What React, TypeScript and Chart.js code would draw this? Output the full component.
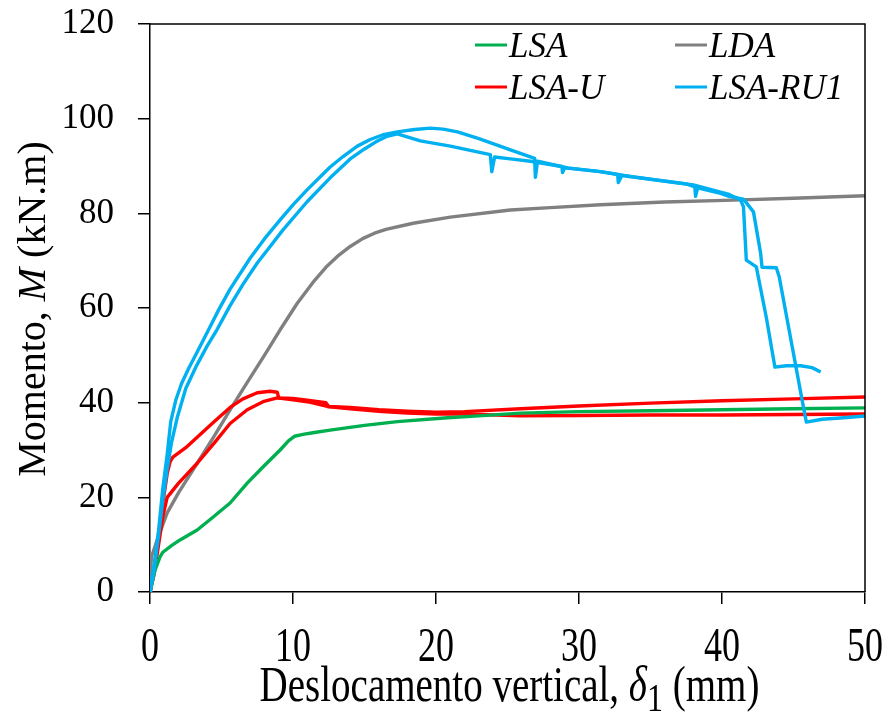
import React, { useEffect, useRef } from "react";
import { Chart, registerables } from "chart.js";

Chart.register(...registerables);

const xTickValues = [0, 10, 20, 30, 40, 50];
const xTickLabels = ["0", "10", "20", "30", "40", "50"];
const yTickValues = [0, 20, 40, 60, 80, 100, 120];
const yTickLabels = ["0", "20", "40", "60", "80", "100", "120"];

const legendLabels = ["LSA", "LDA", "LSA-U", "LSA-RU1"];
const seriesColors = ["#00B050", "#808080", "#FF0000", "#00B0F0"];

const xTitleMain = "Deslocamento vertical, ";
const xTitleSymbol = "δ";
const xTitleSub = "1";
const xTitleUnit = " (mm)";
const yTitleMain = "Momento, ";
const yTitleSymbol = "M";
const yTitleUnit = " (kN.m)";

// LSA
const lsaX = [0, 0.35, 0.7, 0.9, 1.5, 2.1, 3.3, 4.4, 5.6, 6.8, 7.9, 9.1, 9.7, 10.1, 10.7, 11.5, 12.6, 15.0, 17.3, 20.8, 23.0, 25.9, 30.0, 35.0, 40.0, 45.0, 50.0];
const lsaY = [0, 4.6, 7.4, 8.4, 9.8, 11.0, 13.1, 15.8, 18.8, 23.0, 26.4, 30.0, 32.0, 32.9, 33.3, 33.7, 34.2, 35.2, 36.0, 36.8, 37.2, 37.8, 38.1, 38.3, 38.5, 38.7, 38.9];

// LDA
const ldaX = [0, 0.05, 0.1, 0.5, 1.2, 2.0, 3.3, 4.5, 5.6, 6.8, 8.0, 9.1, 10.3, 11.5, 12.3, 13.1, 14.0, 14.9, 15.7, 16.5, 18.4, 21.0, 25.2, 28.0, 31.5, 36.0, 40.8, 45.0, 50.0];
const ldaY = [0, 5.0, 7.4, 11.0, 16.7, 21.0, 27.2, 33.0, 38.5, 44.3, 50.0, 55.4, 61.0, 65.8, 68.6, 70.9, 73.0, 74.7, 75.8, 76.6, 77.9, 79.2, 80.7, 81.2, 81.8, 82.4, 82.8, 83.2, 83.7];

// LSA-U (two traces)
const lsaUAX = [0, 0.3, 0.6, 0.9, 1.2, 1.4, 1.6, 2.5, 3.3, 4.5, 5.6, 6.5, 7.5, 8.4, 8.9, 9.0, 10.0, 11.0, 12.3, 12.5, 14.0, 16.0, 18.0, 20.0, 22.0, 25.9, 30.0, 35.0, 40.0, 45.0, 50.0];
const lsaUAY = [0, 5.0, 12.0, 18.8, 25.0, 27.5, 28.5, 30.5, 32.7, 36.0, 39.0, 40.8, 42.1, 42.4, 42.2, 41.0, 40.9, 40.5, 40.0, 39.2, 39.0, 38.5, 38.2, 38.0, 38.1, 38.7, 39.3, 39.9, 40.4, 40.8, 41.2];
const lsaUBX = [0, 0.3, 0.6, 0.9, 1.2, 2.0, 3.3, 4.5, 5.6, 6.8, 7.9, 8.9, 10.0, 11.0, 12.4, 14.0, 16.0, 18.0, 20.0, 22.0, 25.9, 30.0, 35.0, 40.0, 45.0, 50.0];
const lsaUBY = [0, 4.0, 10.0, 16.0, 20.0, 23.0, 27.2, 31.5, 35.6, 38.5, 40.2, 41.0, 40.6, 40.2, 39.2, 38.7, 38.2, 37.8, 37.6, 37.6, 37.2, 37.3, 37.4, 37.4, 37.5, 37.6];

// LSA-RU1 (two traces)
const ru1AX = [0, 0.3, 0.6, 0.9, 1.2, 1.45, 1.8, 2.2, 2.7, 3.3, 4.06, 4.8, 5.6, 7.0, 8.0, 9.1, 10.0, 11.0, 12.6, 13.5, 14.5, 15.4, 16.3, 17.3, 18.5, 19.6, 20.5, 21.5, 23.0, 25.2, 26.9, 26.95, 27.1, 29.2, 31.5, 33.8, 36.0, 38.0, 39.9, 40.5, 41.3, 41.5, 41.7, 42.4, 43.1, 43.7, 44.5, 45.5, 46.3, 46.9];
const ru1AY = [0, 6.0, 13.0, 22.0, 29.0, 36.0, 40.5, 44.0, 47.2, 50.7, 55.2, 59.6, 64.0, 70.5, 74.6, 78.6, 81.8, 85.0, 89.8, 92.0, 94.2, 95.6, 96.6, 97.2, 97.7, 98.0, 97.8, 97.2, 95.8, 93.4, 91.6, 87.6, 91.0, 89.6, 88.8, 87.7, 86.8, 86.0, 84.5, 84.0, 82.8, 81.4, 70.1, 68.7, 58.0, 47.5, 47.8, 47.8, 47.4, 46.5];
const ru1BX = [0, 0.3, 0.6, 0.9, 1.2, 1.5, 1.9, 2.5, 3.2, 4.0, 4.7, 5.6, 6.5, 7.5, 8.4, 9.3, 11.0, 12.6, 14.0, 15.0, 15.8, 16.5, 17.3, 18.9, 21.0, 23.8, 23.9, 24.1, 25.2, 26.6, 28.8, 28.85, 29.0, 31.5, 32.7, 32.75, 33.0, 35.0, 37.5, 38.1, 38.15, 38.3, 39.9, 40.5, 41.5, 42.2, 42.7, 42.8, 43.8, 44.0, 45.6, 45.9, 47.0, 48.5, 50.0];
const ru1BY = [0, 5.0, 12.0, 19.5, 26.0, 31.5, 36.8, 43.0, 47.5, 52.0, 55.5, 60.5, 65.0, 69.5, 73.0, 76.5, 82.5, 87.5, 91.5, 93.6, 95.1, 96.2, 96.8, 95.3, 94.2, 92.4, 88.8, 91.9, 91.5, 91.0, 89.9, 88.6, 89.6, 88.8, 88.2, 86.5, 88.0, 87.2, 86.2, 85.6, 83.6, 85.4, 84.2, 83.6, 83.0, 80.3, 71.6, 68.6, 68.5, 66.6, 40.6, 35.9, 36.5, 36.8, 37.2];

const FONT = '"Liberation Serif", "Times New Roman", serif';

function pts(xs: number[], ys: number[]) {
  return xs.map((x, i) => ({ x, y: ys[i] }));
}

const customDraw = {
  id: "customDraw",
  afterDraw(chart: any) {
    const { ctx, chartArea: a, scales } = chart;
    ctx.save();
    // box top & right
    ctx.strokeStyle = "#000";
    ctx.lineWidth = 1.5;
    ctx.beginPath();
    ctx.moveTo(a.left, a.top);
    ctx.lineTo(a.right, a.top);
    ctx.lineTo(a.right, a.bottom);
    ctx.stroke();

    ctx.fillStyle = "#000";
    // x tick labels (vertically stretched like the reference)
    ctx.textAlign = "center";
    ctx.textBaseline = "alphabetic";
    xTickValues.forEach((v, i) => {
      const px = scales.x.getPixelForValue(v);
      ctx.save();
      ctx.translate(px, 661);
      ctx.scale(1, 1.35);
      ctx.font = `36px ${FONT}`;
      ctx.fillText(xTickLabels[i], 0, 0);
      ctx.restore();
    });

    // x title
    {
      const runs = [
        { t: xTitleMain, f: `39px ${FONT}`, dy: 0 },
        { t: xTitleSymbol, f: `italic 39px ${FONT}`, dy: 0 },
        { t: xTitleSub, f: `32px ${FONT}`, dy: 8 },
        { t: xTitleUnit, f: `39px ${FONT}`, dy: 0 },
      ];
      ctx.save();
      ctx.translate((a.left + a.right) / 2 + 2, 701);
      ctx.scale(1, 1.28);
      ctx.textAlign = "left";
      let total = 0;
      runs.forEach((r) => {
        ctx.font = r.f;
        total += ctx.measureText(r.t).width;
      });
      let cx = -total / 2;
      runs.forEach((r) => {
        ctx.font = r.f;
        ctx.fillText(r.t, cx, r.dy);
        cx += ctx.measureText(r.t).width;
      });
      ctx.restore();
    }

    // y title
    {
      const runs = [
        { t: yTitleMain, f: `40px ${FONT}` },
        { t: yTitleSymbol, f: `italic 40px ${FONT}` },
        { t: yTitleUnit, f: `40px ${FONT}` },
      ];
      ctx.save();
      ctx.translate(45, (a.top + a.bottom) / 2 + 1);
      ctx.rotate(-Math.PI / 2);
      ctx.textAlign = "left";
      let total = 0;
      runs.forEach((r) => {
        ctx.font = r.f;
        total += ctx.measureText(r.t).width;
      });
      let cx = -total / 2;
      runs.forEach((r) => {
        ctx.font = r.f;
        ctx.fillText(r.t, cx, 0);
        cx += ctx.measureText(r.t).width;
      });
      ctx.restore();
    }

    // legend (2 x 2)
    const colX = [475, 675];
    const rowY = [45, 87];
    ctx.font = `italic 35px ${FONT}`;
    ctx.textAlign = "left";
    ctx.textBaseline = "alphabetic";
    legendLabels.forEach((lab, i) => {
      const x = colX[i % 2];
      const y = rowY[Math.floor(i / 2)];
      ctx.strokeStyle = seriesColors[i];
      ctx.lineWidth = 3;
      ctx.beginPath();
      ctx.moveTo(x, y);
      ctx.lineTo(x + 32, y);
      ctx.stroke();
      ctx.fillStyle = "#000";
      ctx.fillText(lab, x + 34, y + 12);
    });
    ctx.restore();
  },
};

export default function App() {
  const ref = useRef<HTMLCanvasElement | null>(null);
  useEffect(() => {
    if (!ref.current) return;
    const line = (data: any, color: string, order: number) => ({
      data,
      borderColor: color,
      backgroundColor: color,
      borderWidth: 3.4,
      borderJoinStyle: "round",
      showLine: true,
      pointRadius: 0,
      tension: 0,
      order,
    });
    const chart = new Chart(ref.current, {
      type: "scatter",
      data: {
        datasets: [
          { label: legendLabels[3], ...line(pts(ru1AX, ru1AY), seriesColors[3], 0) },
          { label: legendLabels[3] + " b", ...line(pts(ru1BX, ru1BY), seriesColors[3], 0) },
          { label: legendLabels[0], ...line(pts(lsaX, lsaY), seriesColors[0], 1) },
          { label: legendLabels[2], ...line(pts(lsaUAX, lsaUAY), seriesColors[2], 2) },
          { label: legendLabels[2] + " b", ...line(pts(lsaUBX, lsaUBY), seriesColors[2], 2) },
          { label: legendLabels[1], ...line(pts(ldaX, ldaY), seriesColors[1], 3) },
        ],
      },
      options: {
        responsive: false,
        animation: false,
        devicePixelRatio: 1,
        layout: { padding: { top: 24, right: 25, left: 0, bottom: 0 } },
        plugins: { legend: { display: false }, tooltip: { enabled: false } },
        scales: {
          x: {
            type: "linear",
            min: 0,
            max: 50,
            ticks: { stepSize: 10, display: false },
            grid: { drawOnChartArea: false, drawTicks: true, tickLength: 12, color: "#000", lineWidth: 1.5 },
            border: { display: true, color: "#000", width: 1.5 },
            afterFit: (s: any) => {
              s.height = 121;
              s.paddingLeft = 0;
              s.paddingRight = 0;
            },
          },
          y: {
            type: "linear",
            min: 0,
            max: 120,
            ticks: {
              stepSize: 20,
              padding: 24,
              color: "#000",
              font: { family: FONT, size: 35 },
              callback: (v: any) => {
                const i = yTickValues.indexOf(Number(v));
                return i >= 0 ? yTickLabels[i] : "";
              },
            },
            grid: { drawOnChartArea: false, drawTicks: true, tickLength: 12, color: "#000", lineWidth: 1.5 },
            border: { display: true, color: "#000", width: 1.5 },
            afterFit: (s: any) => {
              s.width = 150;
              s.paddingTop = 0;
              s.paddingBottom = 0;
            },
          },
        },
      },
      plugins: [customDraw],
    });
    return () => chart.destroy();
  }, []);
  return (
    <div style={{ position: "fixed", left: 0, top: 0, width: 890, height: 713, background: "#fff" }}>
      <canvas ref={ref} width={890} height={713} style={{ width: 890, height: 713, display: "block" }} />
    </div>
  );
}
